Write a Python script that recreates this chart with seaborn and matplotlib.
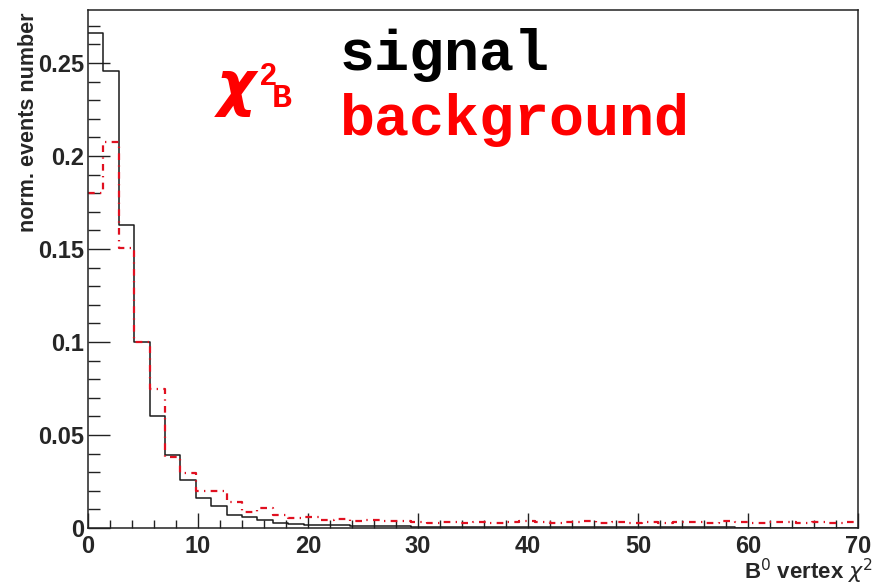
import numpy as np
import pandas as pd
import matplotlib
matplotlib.use("Agg")
import matplotlib.pyplot as plt
from matplotlib.ticker import MultipleLocator, FixedFormatter, FixedLocator
import seaborn as sns

# ---- data (50 bins of width 1.4 between 0 and 70) ----
bin_edges = [round(1.4 * i, 2) for i in range(51)]
bin_centers = [round(0.7 + 1.4 * i, 2) for i in range(50)]

signal = [0.266, 0.2457, 0.163, 0.100, 0.060, 0.039, 0.026, 0.016, 0.012, 0.007,
          0.0058, 0.0042, 0.0027, 0.0024, 0.0018, 0.0016, 0.0014, 0.0013, 0.0011, 0.0010,
          0.0009, 0.0008, 0.0008, 0.0007, 0.0007, 0.0006, 0.0006, 0.0005, 0.0005, 0.0005,
          0.0004, 0.0004, 0.0004, 0.0004, 0.0003, 0.0003, 0.0003, 0.0003, 0.0003, 0.0003,
          0.0003, 0.0003, 0.0002, 0.0002, 0.0002, 0.0002, 0.0002, 0.0002, 0.0002, 0.0002]

background = [0.180, 0.2075, 0.1505, 0.100, 0.0747, 0.038, 0.0296, 0.020, 0.020, 0.014,
              0.0086, 0.0108, 0.007, 0.0054, 0.006, 0.0045, 0.005, 0.004, 0.0042, 0.0035,
              0.0035, 0.0030, 0.0028, 0.0032, 0.0025, 0.0030, 0.0027, 0.0033, 0.0038, 0.0030,
              0.0026, 0.0031, 0.0035, 0.0028, 0.0030, 0.0025, 0.0032, 0.0027, 0.0030, 0.0034,
              0.0029, 0.0036, 0.0031, 0.0028, 0.0033, 0.0030, 0.0027, 0.0032, 0.0029, 0.0030]

y_ticks = [0, 0.05, 0.1, 0.15, 0.2, 0.25]
y_tick_labels = ["0", "0.05", "0.1", "0.15", "0.2", "0.25"]
x_ticks = [0, 10, 20, 30, 40, 50, 60, 70]
x_tick_labels = ["0", "10", "20", "30", "40", "50", "60", "70"]

df = pd.DataFrame({"chi2": bin_centers, "signal": signal, "background": background})

sns.set_style("white")
plt.rcParams["font.family"] = ["Liberation Sans", "DejaVu Sans"]

fig = plt.figure(figsize=(8.86, 5.86), dpi=100)
ax = fig.add_axes([88 / 886, 1 - 528 / 586, 770 / 886, 518 / 586])

sns.histplot(data=df, x="chi2", weights="signal", bins=bin_edges, element="step",
             fill=False, color="#1a1a1a", linewidth=1.1, ax=ax)
sns.histplot(data=df, x="chi2", weights="background", bins=bin_edges, element="step",
             fill=False, color="#e01020", linewidth=1.6,
             linestyle=(0, (3, 2.4, 0.6, 2.4)), ax=ax)

ax.set_xlim(0, 70)
ax.set_ylim(0, 0.2785)

ax.yaxis.set_major_locator(FixedLocator(y_ticks))
ax.yaxis.set_major_formatter(FixedFormatter(y_tick_labels))
ax.yaxis.set_minor_locator(MultipleLocator(0.01))
ax.xaxis.set_major_locator(FixedLocator(x_ticks))
ax.xaxis.set_major_formatter(FixedFormatter(x_tick_labels))
ax.xaxis.set_minor_locator(MultipleLocator(2))

ax.tick_params(which="both", direction="in", bottom=True, left=True, top=False, right=False,
               color="#222222", width=1.0)
ax.tick_params(axis="y", which="major", length=16, pad=3)
ax.tick_params(axis="y", which="minor", length=8.5)
ax.tick_params(axis="x", which="major", length=11, pad=5)
ax.tick_params(axis="x", which="minor", length=5.5)
for lab in ax.get_xticklabels() + ax.get_yticklabels():
    lab.set_fontsize(17)
    lab.set_fontweight("bold")

for sp in ax.spines.values():
    sp.set_color("#222222")
    sp.set_linewidth(1.1)

ax.set_ylabel("norm. events number", fontsize=15.5, fontweight="bold", loc="top")
ax.yaxis.set_label_coords(-0.064, 0.995)
ax.set_xlabel(r"B$^0$ vertex $\chi^2$", fontsize=16, fontweight="bold", loc="right")
ax.xaxis.set_label_coords(1.020, -0.055)

# annotations
mono = ["Liberation Mono", "DejaVu Sans Mono"]
fig.text(340 / 886, 1 - 70 / 586, "signal", family=mono, fontweight="bold",
         fontsize=42, color="black", ha="left", va="baseline")
fig.text(340 / 886, 1 - 135 / 586, "background", family=mono, fontweight="bold",
         fontsize=42, color="#ff0000", ha="left", va="baseline")
fig.text(217 / 886, 1 - 104 / 586, "χ", family=["DejaVu Sans"], fontweight="bold",
         style="oblique", fontsize=43, color="#ff0000", ha="left", va="baseline")
fig.text(260 / 886, 1 - 85 / 586, "2", family=["Liberation Sans"], fontweight="bold",
         fontsize=22, color="#ff0000", ha="left", va="baseline")
fig.text(272 / 886, 1 - 107 / 586, "B", family=mono, fontweight="bold",
         fontsize=24, color="#ff0000", ha="left", va="baseline")

fig.savefig("out.png", dpi=100, facecolor="white")
